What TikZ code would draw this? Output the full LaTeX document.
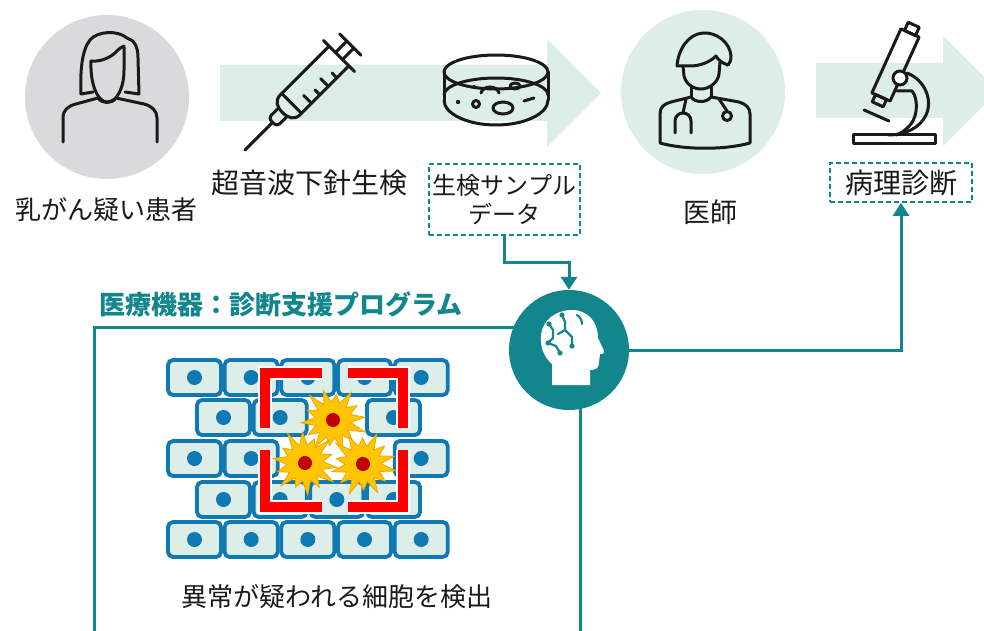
\documentclass[tikz,border=0pt]{standalone}
\usepackage{fontspec}
\setmainfont{Noto Sans CJK JP}
\usetikzlibrary{arrows.meta,calc}

\definecolor{mint}{RGB}{221,238,232}
\definecolor{softgray}{RGB}{218,218,220}
\definecolor{tealc}{RGB}{17,134,140}
\definecolor{cellblue}{RGB}{14,121,178}
\definecolor{ink}{RGB}{26,26,26}
\definecolor{burstyellow}{RGB}{255,198,0}
\definecolor{burstedge}{RGB}{240,165,0}
\definecolor{darkred}{RGB}{192,0,0}

\tikzset{
  icon/.style={draw=ink, line width=3pt, line cap=round, line join=round},
  txt/.style={text=ink, inner sep=0pt},
  databox/.style={draw=tealc, dash pattern=on 5pt off 3pt, line width=1.8pt, text=ink, inner sep=0pt},
  link/.style={draw=tealc, line width=3pt},
  tip/.style={-{Triangle[width=16pt,length=13pt]}},
  cell/.style={draw=cellblue, fill=mint, line width=3.8pt, rounded corners=5pt},
  burst/.style={fill=burstyellow, draw=burstedge, line width=0.8pt, line join=miter},
  bracketwhite/.style={draw=white, line width=14pt},
  bracketred/.style={draw=red, line width=10pt},
}

% spikes of the yellow bursts: angle/radius pairs
\newcommand\burstpts{12.86/18, 25.71/28, 38.57/18, 51.43/33, 64.29/18, 77.14/26, 90/18, 102.86/31, 115.71/18, 128.57/34, 141.43/18, 154.29/27, 167.14/18, 180/32, 192.86/18, 205.71/29, 218.57/18, 231.43/33, 244.29/18, 257.14/26, 270/18, 282.86/32, 295.71/18, 308.57/28, 321.43/18, 334.29/34, 347.14/18}

\newcommand\cellbox[2]{%
  \draw[cell] (#1,#2) rectangle ++(53,35);
  \fill[cellblue] ({#1+26.5},{#2+17.5}) circle (7.5pt);
}

\newcommand\burstat[3]{%
  \begin{scope}[shift={(#1,#2)}, rotate=#3]
    \filldraw[burst] (0:32pt) \foreach \a/\r in \burstpts { -- (\a:\r pt) } -- cycle;
    \fill[darkred] (0,0) circle (7pt);
  \end{scope}
}

\begin{document}
\begin{tikzpicture}[x=1pt, y=-1pt]
\useasboundingbox (0,0) rectangle (984,631);
\fill[white] (0,0) rectangle (984,631);

% flow arrows in the background
\fill[mint] (220,65) -- (547,65) -- (547,39) -- (601,93) -- (547,147) -- (547,121) -- (220,121) -- cycle;
\fill[mint] (816,63) -- (943,63) -- (943,36) -- (998,91) -- (943,146) -- (943,118) -- (816,118) -- cycle;

% round backdrops
\fill[softgray] (107,97) circle (82pt);
\fill[mint] (703,92) circle (82pt);

% patient
\draw[icon] (81,94) .. controls (80,70) and (82,50) .. (90,40) .. controls (97,31) and (118,30) .. (127,38)
  .. controls (134,40) and (138,46) .. (138,58) -- (139,94) -- (125,92);
\draw[icon] (81,94) -- (93,92);
\draw[icon] (91,61) .. controls (90,85) and (98,102) .. (107,102) .. controls (117,102) and (124,88) .. (124,70) -- (124,47);
\draw[icon] (91,61) .. controls (100,62) and (110,58) .. (116,52) .. controls (119,49) and (121,47) .. (124,46);
\draw[icon] (63,142) -- (63,118) .. controls (63,110) and (68,106) .. (76,104) -- (98,98)
  .. controls (102,104) and (112,104) .. (116,98) -- (144,104) .. controls (152,106) and (157,111) .. (157,118) -- (157,142);

% syringe
\begin{scope}[shift={(245,150)}, rotate=45]
  \draw[icon] (0,0) -- (39,0);
  \draw[icon, rounded corners=4pt] (53,-6) -- (39,-6) -- (39,6) -- (53,6);
  \draw[icon] (133,-14) -- (64,-14) .. controls (56,-14) and (53,-8) .. (53,0) .. controls (53,8) and (56,14) .. (64,14) -- (133,14);
  \draw[icon] (66,-14) -- (66,14);
  \draw[icon] (80,14) -- (80,3) (92,14) -- (92,7) (104,14) -- (104,3) (116,14) -- (116,7);
  \draw[icon] (133,-22) -- (133,22);
  \draw[icon] (133,-5) -- (149,-5) (133,5) -- (149,5);
  \draw[icon] (149,-15) -- (149,15);
\end{scope}

% petri dish
\draw[icon] (496,72) ellipse (52pt and 17pt);
\draw[icon] (444,72) -- (444,100) (548,72) -- (548,100);
\draw[icon] (444,100) arc[start angle=180, end angle=360, x radius=52, y radius=-25];
\draw[icon] (444,95) arc[start angle=180, end angle=0, x radius=52, y radius=-17];
\draw[icon] (481,93) .. controls (483,85) and (497,85) .. (499,93);
\draw[icon] (515,86) ellipse (5pt and 3pt);
\draw[icon] (476,104) circle (3.5pt);
\draw[icon] (503,108) ellipse (10pt and 6pt);
\fill[ink] (474,87) circle (2pt) (458,102) circle (2.2pt);
\draw[icon] (524,101) -- (534,98);

% doctor
\draw[icon] (677,66) .. controls (678,50) and (688,34) .. (703,33) .. controls (716,32) and (730,42) .. (731,56)
  .. controls (731,60) and (730,63) .. (728,65);
\draw[icon] (677,66) -- (690,66) .. controls (700,66) and (710,62) .. (716,56) .. controls (718,60) and (722,63) .. (728,65);
\draw[icon] (683,66) -- (684,76) .. controls (686,84) and (693,89) .. (701,89) .. controls (710,89) and (718,82) .. (719,74) -- (720,62);
\draw[icon] (691,86) -- (691,97) (711,86) -- (711,97);
\draw[icon] (660,143) -- (660,114) .. controls (660,107) and (664,104) .. (671,102) -- (691,97)
  .. controls (695,103) and (707,103) .. (711,97) -- (739,102) .. controls (746,104) and (750,108) .. (750,114) -- (750,143)
  .. controls (725,150) and (685,150) .. (660,143);
\draw[icon] (686,99) -- (683,113);
\draw[icon] (675,133) -- (675,121) .. controls (675,116) and (679,113) .. (683,113) .. controls (687,113) and (691,116) .. (691,121) -- (691,133);
\draw[icon] (719,99) -- (727,111);
\draw[icon, fill=mint] (727,116) circle (4.5pt);

% microscope
\draw[icon] (853,135) rectangle (935,144);
\draw[icon] (871.9,92.9) -- (890.1,101.1) -- (919.1,37.1) -- (900.9,28.9) -- cycle;
\draw[icon] (904.5,30.5) -- (915.5,35.5) -- (919.2,27.3) -- (908.2,22.3) -- cycle;
\draw[icon] (875.5,94.5) -- (886.5,99.5) -- (883.2,106.8) -- (872.2,101.8) -- cycle;
\draw[icon] (864,110) -- (889,121);
\draw[icon] (907,73) .. controls (925,80) and (933,100) .. (926,115) .. controls (920,128) and (905,135) .. (888,135);
\draw[icon] (897,91) -- (912,91) .. controls (918,98) and (918,115) .. (911,124) .. controls (906,130) and (900,134) .. (896,135);
\draw[icon, fill=white] (900,78) circle (7pt);

% program frame
\draw[link] (94,327) rectangle (580,700);

% analysis node with head icon
\node[circle, fill=tealc, minimum size=120pt, inner sep=0pt] (brain) at (569,350) {};
\fill[white] (552,385) -- (552,364) .. controls (544,357) and (540,347) .. (541,336)
  .. controls (542,320) and (556,310) .. (572,310) .. controls (588,310) and (598,322) .. (598,338)
  -- (604,351) .. controls (605,353) and (603,354) .. (600,354) -- (599,362)
  .. controls (599,368) and (596,370) .. (590,370) -- (590,385) -- cycle;
\begin{scope}[tealc, line width=2.2pt, line cap=round, line join=round]
  \draw (549,324) -- (553,330) -- (553,338) -- (548,343);
  \draw (562,315) -- (565,322) -- (565,330) -- (572,337) -- (572,346);
  \draw (565,330) -- (558,334);
  \draw (548,343) -- (556,346) -- (560,353);
  \draw (577,315) .. controls (580,317) and (582,320) .. (582,324);
  \fill (549,324) circle (2.6pt) (562,315) circle (2.6pt) (548,343) circle (2.6pt)
        (560,353) circle (2.6pt) (572,346) circle (2.6pt);
\end{scope}

% labels
\node[txt, font=\fontsize{26}{30}\selectfont] (patient) at (106,210) {乳がん疑い患者};
\node[txt, font=\fontsize{28}{30}\selectfont] (biopsy) at (309,183) {超音波下針生検};
\node[databox, font=\fontsize{24}{29}\selectfont, align=center, minimum width=151pt, minimum height=71pt] (sample) at (504.5,199.5) {生検サンプル\\データ};
\node[txt, font=\fontsize{27}{30}\selectfont] (doctor) at (710,212) {医師};
\node[databox, font=\fontsize{28}{30}\selectfont, minimum width=142pt, minimum height=39pt] (diag) at (901,182.5) {病理診断};
\node[txt, text=tealc, anchor=west, font=\fontsize{26}{30}\selectfont\bfseries] (program) at (99,304) {医療機器：診断支援プログラム};
\node[txt, font=\fontsize{26}{30}\selectfont] (detect) at (337,597) {異常が疑われる細胞を検出};

% connectors
\draw[link, tip] (sample.south) |- ($(sample.south)!0.5!(brain.north)$) -| (brain.north);
\draw[link, tip] (brain.east) -| (diag.south);

% tissue: rows of cells
\foreach \i in {0,...,4} { \cellbox{168+56.67*\i}{360} }
\foreach \i in {0,1,3} { \cellbox{197+56.67*\i}{400} }
\foreach \i in {0,1,4} { \cellbox{168+56.67*\i}{441} }
\foreach \i in {0,...,3} { \cellbox{197+56.67*\i}{482} }
\foreach \i in {0,...,4} { \cellbox{168+56.67*\i}{522} }

% abnormal cells
\burstat{333}{420}{5}
\burstat{305}{463}{-8}
\burstat{363}{464}{14}

% detection frame corners
\foreach \s in {bracketwhite, bracketred} {
  \draw[\s] (265,428) -- (265,373) -- (322,373);
  \draw[\s] (348,373) -- (403,373) -- (403,428);
  \draw[\s] (265,450) -- (265,507) -- (322,507);
  \draw[\s] (348,507) -- (403,507) -- (403,450);
}
\end{tikzpicture}
\end{document}
